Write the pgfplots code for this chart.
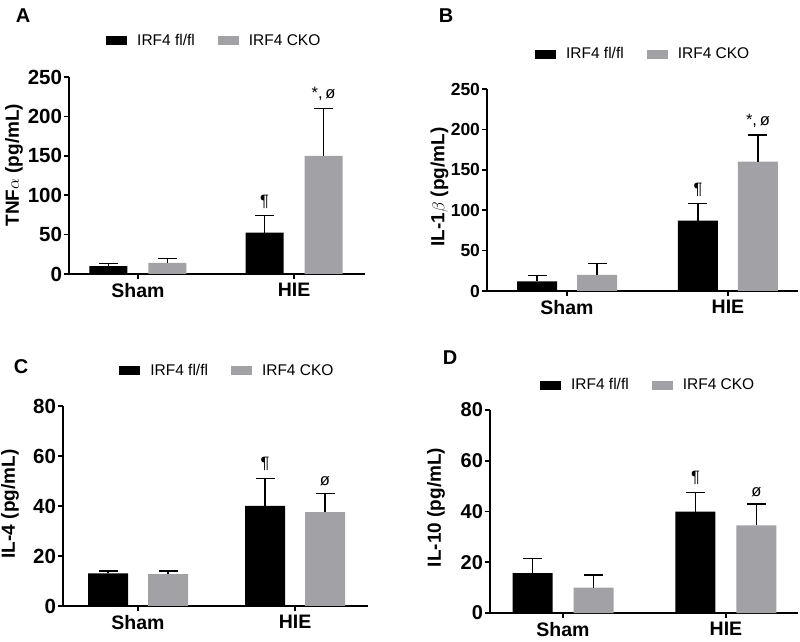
\documentclass[border=0pt]{standalone}
\usepackage{pgfplots}
\pgfplotsset{compat=1.18}
\usepackage{fontspec}
\setmainfont{Liberation Sans}
\definecolor{barblack}{RGB}{0,0,0}
\definecolor{bargray}{RGB}{162,162,166}
\pgfplotsset{
  panel/.style={
    scale only axis,
    axis x line*=bottom,
    axis y line*=left,
    axis line style={line width=1.6pt,-},
    tick style={line width=1.6pt,black},
    major tick length=5pt,
    tick align=outside,
    ymin=0,
    xtick={0,1},
    xticklabels={Sham,HIE},
    /pgf/number format/assume math mode=true,
    xticklabel style={yshift=-1pt, font=\fontsize{19.5}{19.5}\selectfont\bfseries},
    ylabel style={font=\fontsize{19}{19}\selectfont\bfseries, rotate=0, anchor=center},
    ybar,
    bar width=40pt,
    legend columns=2,
    legend cell align=left,
    legend style={draw=none, fill=none, inner sep=0pt, anchor=west,
      font=\fontsize{15.5}{15.5}\selectfont,
      nodes={inner sep=1pt},
      /tikz/every odd column/.append style={column sep=9pt},
      /tikz/every even column/.append style={column sep=22pt}},
    legend image code/.code={\fill[#1] (0pt,-4.5pt) rectangle (21pt,4.5pt);},
    clip=false,
  },
  errcommon/.style={draw=none,
    error bars/y dir=plus, error bars/y explicit,
    error bars/error bar style={line width=1.4pt, black},
    error bars/error mark options={line width=1.4pt, black, mark size=9.5pt, rotate=90}},
  errblack/.style={errcommon, fill=barblack},
  errgray/.style={errcommon, fill=bargray},
}
\newcommand{\annot}{\fontsize{16.5}{16.5}\selectfont}
\begin{document}
\begin{tikzpicture}
\path[use as bounding box] (0pt,0pt) rectangle (800pt,642pt);
% Panel letters
\node[font=\fontsize{20}{20}\selectfont\bfseries] at (23pt,626pt) {A};
\node[font=\fontsize{20}{20}\selectfont\bfseries] at (446pt,626pt) {B};
\node[font=\fontsize{20}{20}\selectfont\bfseries] at (21pt,275pt) {C};
\node[font=\fontsize{20}{20}\selectfont\bfseries] at (450pt,284pt) {D};

% ---------- Panel A ----------
\begin{axis}[panel, at={(69pt,368pt)}, anchor=south west,
  width=296pt, height=197pt, ymax=250, ytick={0,50,100,150,200,250},
  yticklabel style={font=\fontsize{20.5}{20.5}\selectfont\bfseries, xshift=1.5pt},
  xmin=-0.442, xmax=1.455, bar width=38pt,
  ylabel={TNF$\alpha$ (pg/mL)},
  ylabel style={at={(axis description cs:-0.186,0.553)}},
  legend style={at={(axis description cs:0.125,1.183)}}]
\addplot[errblack, bar shift=-29.5pt] coordinates {(0,10) +- (0,3.5) (1,52.5) +- (0,21.5)};
\addplot[errgray, bar shift=29.5pt] coordinates {(0,14) +- (0,6) (1,150) +- (0,60)};
\legend{IRF4 fl/fl, IRF4 CKO}
\node[anchor=south, font=\annot] at (axis cs:1,74) [xshift=-29.5pt, yshift=4pt] {¶};
\node[anchor=south, font=\annot] at (axis cs:1,210) [xshift=29.5pt, yshift=4pt] {*,\,ø};
\end{axis}

% ---------- Panel B ----------
\begin{axis}[panel, at={(487pt,351pt)}, anchor=south west,
  width=311pt, height=202pt, ymax=250, ytick={0,50,100,150,200,250},
  yticklabel style={font=\fontsize{17.5}{17.5}\selectfont\bfseries, xshift=1.5pt},
  xmin=-0.497, xmax=1.435,
  ylabel={IL-1$\beta$ (pg/mL)},
  ylabel style={at={(axis description cs:-0.153,0.515)}},
  legend style={at={(axis description cs:0.154,1.173)}}]
\addplot[errblack, bar shift=-30pt] coordinates {(0,12) +- (0,7) (1,87) +- (0,21)};
\addplot[errgray, bar shift=30pt] coordinates {(0,20) +- (0,14) (1,160) +- (0,33)};
\legend{IRF4 fl/fl, IRF4 CKO}
\node[anchor=south, font=\annot] at (axis cs:1,108) [xshift=-30pt, yshift=4pt] {¶};
\node[anchor=south, font=\annot] at (axis cs:1,193) [xshift=30pt, yshift=4pt] {*,\,ø};
\end{axis}

% ---------- Panel C ----------
\begin{axis}[panel, at={(63pt,36pt)}, anchor=south west,
  width=305pt, height=200pt, ymax=80, ytick={0,20,40,60,80},
  yticklabel style={font=\fontsize{20.5}{20.5}\selectfont\bfseries, xshift=1.5pt},
  xmin=-0.478, xmax=1.465,
  ylabel={IL-4 (pg/mL)},
  ylabel style={at={(axis description cs:-0.174,0.51)}},
  legend style={at={(axis description cs:0.184,1.175)}}]
\addplot[errblack, bar shift=-30pt] coordinates {(0,13) +- (0,1) (1,40) +- (0,11)};
\addplot[errgray, bar shift=30pt] coordinates {(0,12.7) +- (0,1.3) (1,37.5) +- (0,7.5)};
\legend{IRF4 fl/fl, IRF4 CKO}
\node[anchor=south, font=\annot] at (axis cs:1,51) [xshift=-30pt, yshift=4pt] {¶};
\node[anchor=south, font=\annot] at (axis cs:1,45) [xshift=30pt, yshift=4pt] {ø};
\end{axis}

% ---------- Panel D ----------
\begin{axis}[panel, at={(490pt,29pt)}, anchor=south west,
  width=308pt, height=203pt, ymax=80, ytick={0,20,40,60,80},
  yticklabel style={font=\fontsize{20}{20}\selectfont\bfseries, xshift=1.5pt},
  xmin=-0.448, xmax=1.442,
  ylabel={IL-10 (pg/mL)},
  ylabel style={at={(axis description cs:-0.175,0.52)}},
  legend style={at={(axis description cs:0.162,1.123)}}]
\addplot[errblack, bar shift=-30.5pt] coordinates {(0,15.7) +- (0,5.8) (1,40) +- (0,7.5)};
\addplot[errgray, bar shift=30.5pt] coordinates {(0,10) +- (0,5) (1,34.5) +- (0,8.5)};
\legend{IRF4 fl/fl, IRF4 CKO}
\node[anchor=south, font=\annot] at (axis cs:1,47.5) [xshift=-30.5pt, yshift=4pt] {¶};
\node[anchor=south, font=\annot] at (axis cs:1,43) [xshift=30.5pt, yshift=4pt] {ø};
\end{axis}
\end{tikzpicture}
\end{document}
